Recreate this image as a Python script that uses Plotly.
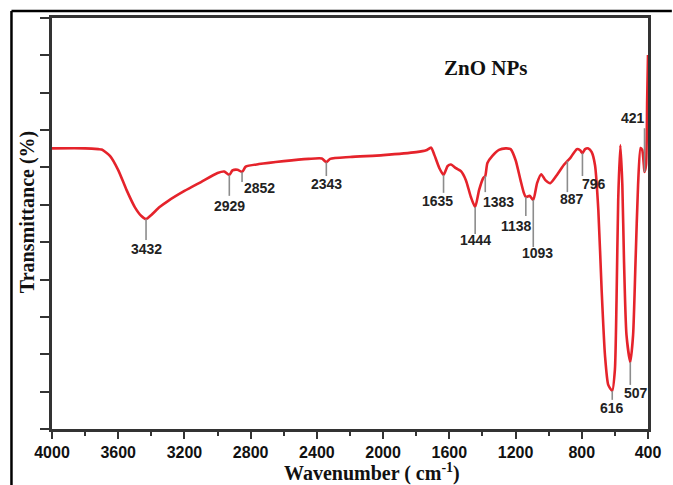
import numpy as np
import plotly.graph_objects as go

# FTIR spectrum of ZnO NPs
wavenumber = [4000, 3800, 3720, 3700, 3650, 3600, 3550, 3500, 3460, 3432, 3400, 3350, 3300, 3200,
              3100, 3000, 2960, 2929, 2910, 2880, 2852, 2830, 2750, 2600, 2450, 2370, 2343, 2320,
              2200, 2000, 1800, 1740, 1710, 1690, 1660, 1635, 1610, 1590, 1560, 1530, 1500, 1470,
              1444, 1420, 1395, 1383, 1370, 1340, 1300, 1260, 1230, 1200, 1170, 1150, 1138, 1115,
              1093, 1070, 1045, 1020, 990, 950, 910, 887, 870, 830, 810, 796, 780, 760, 740, 720,
              700, 680, 660, 640, 616, 600, 590, 580, 567, 555, 545, 530, 507, 490, 475, 460, 445,
              435, 425, 421, 412, 405, 400]
transmittance = [75.1, 75.1, 74.9, 74.8, 73.1, 69.3, 64.0, 59.4, 57.0, 56.2, 57.3, 59.4, 61.0, 63.7,
                 66.1, 68.5, 68.9, 68.0, 69.2, 69.4, 68.8, 70.2, 70.9, 71.7, 72.3, 72.4, 71.4, 72.3,
                 72.8, 73.3, 74.1, 74.6, 75.3, 73.3, 69.8, 68.0, 70.4, 70.8, 69.8, 69.0, 66.6, 62.1,
                 59.4, 64.0, 67.2, 67.7, 71.2, 73.1, 74.7, 75.1, 74.9, 72.0, 66.6, 63.2, 62.1, 62.4,
                 61.3, 65.8, 68.2, 66.6, 65.8, 68.0, 70.6, 71.7, 72.5, 74.9, 74.6, 73.8, 74.9, 75.1, 74.1, 70.6,
                 58.6, 37.2, 19.8, 11.8, 10.2, 15.8, 34.5, 61.3, 76.0, 65.3, 45.2, 25.2, 17.9, 25.2, 45.2, 65.3, 75.2,
                 74.7, 70.6, 68.8, 70.6, 88.0, 100.1]

# marked peaks
peaks = [3432, 2929, 2852, 2343, 1635, 1444, 1383, 1138, 1093, 887, 796, 616, 507, 421]
# where each leader line ends, and where its label sits (x, y)
line_end = [50.6, 62.4, 66.1, 67.7, 63.2, 52.2, 63.4, 57.0, 48.7, 63.4, 67.7, 7.8, 11.8, 80.5]
label_x = [3432, 2929, 2745, 2343, 1670, 1444, 1304, 1196, 1070, 862, 729, 616, 471, 489]
label_y = [48.2, 59.7, 64.5, 65.6, 61.0, 50.6, 60.7, 54.3, 47.1, 61.5, 65.6, 5.6, 9.6, 83.2]

fig = go.Figure()
fig.add_trace(go.Scatter(x=wavenumber, y=transmittance, mode="lines",
                         line=dict(color="#e5232b", width=2.6, shape="spline", smoothing=0.6),
                         showlegend=False, hoverinfo="skip"))

wn_inc = wavenumber[::-1]
tr_inc = transmittance[::-1]
for p, le, lx, ly in zip(peaks, line_end, label_x, label_y):
    yp = float(np.interp(p, wn_inc, tr_inc))
    fig.add_shape(type="line", x0=p, x1=p, y0=yp, y1=le, xref="x", yref="y",
                  line=dict(color="#8c8c8c", width=1.6))
    fig.add_annotation(x=lx, y=ly, text=str(p), showarrow=False, xanchor="center", yanchor="middle",
                       font=dict(family="Liberation Sans", size=14, color="#222", weight="bold"))

fig.add_annotation(x=0.727, y=0.878, xref="paper", yref="paper", text="<b>ZnO NPs</b>",
                   showarrow=False, xanchor="center", yanchor="middle",
                   font=dict(family="Liberation Serif", size=21, color="#111"))
fig.add_annotation(x=0.537, y=-0.107, xref="paper", yref="paper",
                   text="<b>Wavenumber ( cm<sup>-1</sup>)</b>", showarrow=False,
                   xanchor="center", yanchor="middle",
                   font=dict(family="Liberation Serif", size=20, color="#111"))
fig.add_annotation(x=-0.04, y=0.528, xref="paper", yref="paper", textangle=-90,
                   text="<b>Transmittance (%)</b>", showarrow=False,
                   xanchor="center", yanchor="middle",
                   font=dict(family="Liberation Serif", size=20, color="#111"))

# outer frame of the picture
fig.add_shape(type="line", xref="paper", yref="paper", x0=-0.068, x1=1.04, y0=1.017, y1=1.017,
              line=dict(color="black", width=2.5))
fig.add_shape(type="line", xref="paper", yref="paper", x0=-0.068, x1=-0.068, y0=1.017, y1=-0.14,
              line=dict(color="black", width=2.5))

fig.update_xaxes(range=[4000, 400], tickvals=list(range(4000, 399, -400)),
                 ticks="outside", ticklen=7, tickwidth=2, tickcolor="#333",
                 minor=dict(dtick=200, ticks="outside", ticklen=4, tickwidth=2, tickcolor="#333"),
                 showline=True, linecolor="#333", linewidth=2.5, mirror=True,
                 showgrid=False, zeroline=False,
                 tickfont=dict(family="Liberation Sans", size=16, color="#111", weight="bold"))
fig.update_yaxes(range=[0, 110], dtick=10, ticks="outside", ticklen=9, tickwidth=2,
                 tickcolor="#333", showticklabels=False,
                 showline=True, linecolor="#333", linewidth=2.5, mirror=True,
                 showgrid=False, zeroline=False)
fig.update_layout(width=673, height=485, margin=dict(l=52, r=20, t=18, b=56),
                  plot_bgcolor="white", paper_bgcolor="white")
fig.write_html("out.html", config={"displayModeBar": False},
               post_script="document.body.style.margin='0';")
